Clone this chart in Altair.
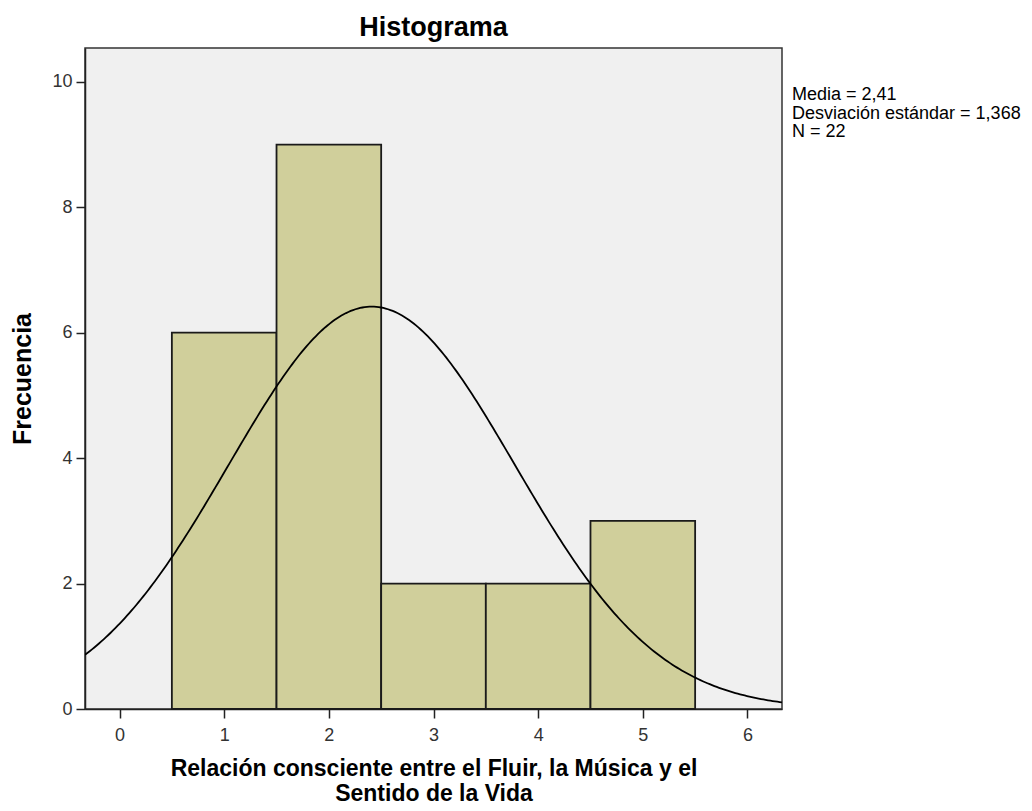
import altair as alt
import pandas as pd
import numpy as np

# Histogram data
bin_start = [0.5, 1.5, 2.5, 3.5, 4.5]
bin_end = [1.5, 2.5, 3.5, 4.5, 5.5]
counts = [6, 9, 2, 2, 3]

# Stated statistics (used for normal curve)
media = 2.41
desv = 1.368
n_total = 22
bin_width = 1.0

x_ticks = [0, 1, 2, 3, 4, 5, 6]
y_ticks = [0, 2, 4, 6, 8, 10]

stats_lines = ["Media = 2,41", "Desviación estándar = 1,368", "N = 22"]

bars_df = pd.DataFrame({"x0": bin_start, "x1": bin_end, "count": counts})

xs = np.linspace(-0.33, 6.33, 300)
ys = n_total * bin_width / (desv * np.sqrt(2 * np.pi)) * np.exp(-0.5 * ((xs - media) / desv) ** 2)
curve_df = pd.DataFrame({"x": xs, "y": ys})

X_DOMAIN = [-0.33, 6.33]
Y_DOMAIN = [0, 10.54]
FONT = "Liberation Sans"

xscale = alt.Scale(domain=X_DOMAIN, nice=False, zero=False)
yscale = alt.Scale(domain=Y_DOMAIN, nice=False)

xaxis = alt.Axis(
    values=x_ticks, title=["Relación consciente entre el Fluir, la Música y el", "Sentido de la Vida"],
    titleFontSize=23, titleFont=FONT, titleFontWeight="bold", titleColor="#000000",
    titlePadding=13, titleLineHeight=25,
    labelFontSize=18, labelFont=FONT, labelColor="#333333", labelPadding=8,
    tickSize=9, tickColor="#222222", domainColor="#222222", domainWidth=1.5, tickWidth=1.5,
    grid=False, format="d",
)
yaxis = alt.Axis(
    values=y_ticks, title="Frecuencia",
    titleFontSize=25, titleFont=FONT, titleFontWeight="bold", titleColor="#000000",
    titlePadding=16,
    labelFontSize=18, labelFont=FONT, labelColor="#333333", labelPadding=4,
    tickSize=9, tickColor="#222222", domainColor="#222222", domainWidth=1.5, tickWidth=1.5,
    grid=False, format="d",
)

bars = alt.Chart(bars_df).mark_rect(
    fill="#D0CF9B", stroke="#1a1a1a", strokeWidth=1.8
).encode(
    x=alt.X("x0:Q", scale=xscale, axis=xaxis),
    x2="x1:Q",
    y=alt.Y("count:Q", scale=yscale, axis=yaxis),
    y2=alt.datum(0),
)

curve = alt.Chart(curve_df).mark_line(
    color="#000000", strokeWidth=1.8, clip=True
).encode(
    x=alt.X("x:Q", scale=xscale),
    y=alt.Y("y:Q", scale=yscale),
)

stats = alt.Chart(pd.DataFrame({"k": [0]})).mark_text(
    align="left", baseline="alphabetic", font=FONT, fontSize=18, color="#000000", lineHeight=18.5
).encode(
    x=alt.value(707),
    y=alt.value(52),
    text=alt.value(stats_lines),
)

chart = alt.layer(bars, curve, stats).properties(
    width=697,
    height=661,
    title=alt.Title("Histograma", fontSize=27, font=FONT, fontWeight="bold", color="#000000",
                    anchor="middle", offset=6),
    autosize=alt.AutoSizeParams(type="none"),
    padding={"left": 77, "top": 40, "right": 240, "bottom": 100},
    background="#FFFFFF",
).configure_view(
    fill="#F0F0F0", stroke="#333333", strokeWidth=1.5
)

chart.save("out.html", embed_options={"renderer": "svg", "actions": False})
